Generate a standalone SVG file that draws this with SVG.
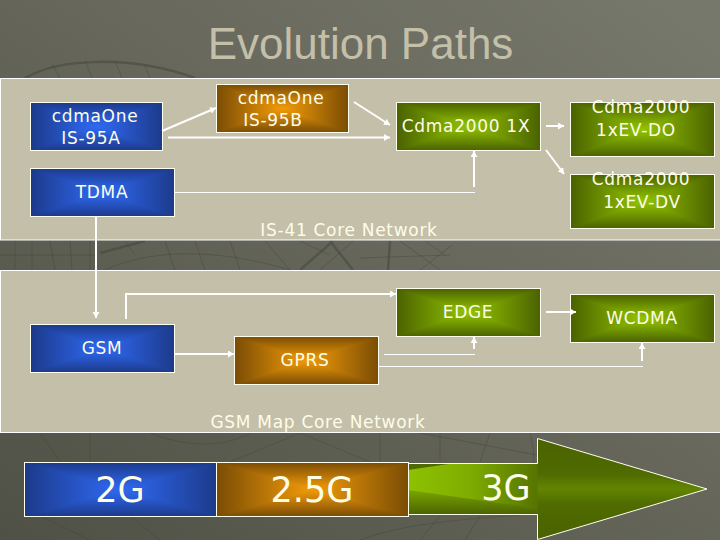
<svg xmlns="http://www.w3.org/2000/svg" width="720" height="540" viewBox="0 0 720 540">
<style>
.t{font-family:"DejaVu Sans",Verdana,sans-serif;fill:#fdfde8;text-anchor:middle;font-size:17px;letter-spacing:.7px}
.b{font-size:35px;letter-spacing:0;font-weight:normal}
.c{fill:none;stroke:#fff;stroke-width:2}
.a{marker-end:url(#ah)}
.f{fill:none;stroke:#fff;stroke-width:1}
.p{fill:#c3bfa9;stroke:#fff;stroke-width:1}
.n{fill:none;stroke:#fffff0;stroke-width:1}
.w{fill:none;stroke:#3f4036;stroke-width:1;opacity:.35}
.ws{fill:none;stroke:#3f4036;stroke-width:2.500;opacity:.45}
</style>
<defs>
<linearGradient id="bg" x1="0" y1="1" x2="1" y2="0"><stop offset="0" stop-color="#505146"/><stop offset=".6" stop-color="#696a5d"/><stop offset="1" stop-color="#78796d"/></linearGradient>
<marker id="ah" markerUnits="userSpaceOnUse" markerWidth="8" markerHeight="8" refX="6" refY="3.500" orient="auto"><path d="M0 0L6 3.500L0 7z" fill="#fff"/></marker>
<linearGradient id="bH"><stop offset="0" stop-color="#1c3a8a"/><stop offset=".35" stop-color="#2a5cd6"/><stop offset=".5" stop-color="#2f68f0"/><stop offset=".65" stop-color="#2a5cd6"/><stop offset="1" stop-color="#1c3a8a"/></linearGradient>
<linearGradient id="bT" x1="0" x2="0" y1="0" y2="1"><stop offset="0" stop-color="#1c3a8a"/><stop offset=".7" stop-color="#2a5cd6"/><stop offset="1" stop-color="#2f68f0"/></linearGradient>
<linearGradient id="bB" x1="0" x2="0" y1="1" y2="0"><stop offset="0" stop-color="#1c3a8a"/><stop offset=".7" stop-color="#2a5cd6"/><stop offset="1" stop-color="#2f68f0"/></linearGradient>
<linearGradient id="oH"><stop offset="0" stop-color="#7a4c04"/><stop offset=".35" stop-color="#d08508"/><stop offset=".5" stop-color="#f09a08"/><stop offset=".65" stop-color="#d08508"/><stop offset="1" stop-color="#7a4c04"/></linearGradient>
<linearGradient id="oT" x1="0" x2="0" y1="0" y2="1"><stop offset="0" stop-color="#7a4c04"/><stop offset=".7" stop-color="#d08508"/><stop offset="1" stop-color="#f09a08"/></linearGradient>
<linearGradient id="oB" x1="0" x2="0" y1="1" y2="0"><stop offset="0" stop-color="#7a4c04"/><stop offset=".7" stop-color="#d08508"/><stop offset="1" stop-color="#f09a08"/></linearGradient>
<linearGradient id="gH"><stop offset="0" stop-color="#4a6200"/><stop offset=".35" stop-color="#7ea800"/><stop offset=".5" stop-color="#90c400"/><stop offset=".65" stop-color="#7ea800"/><stop offset="1" stop-color="#4a6200"/></linearGradient>
<linearGradient id="gT" x1="0" x2="0" y1="0" y2="1"><stop offset="0" stop-color="#4a6200"/><stop offset=".7" stop-color="#7ea800"/><stop offset="1" stop-color="#90c400"/></linearGradient>
<linearGradient id="gB" x1="0" x2="0" y1="1" y2="0"><stop offset="0" stop-color="#4a6200"/><stop offset=".7" stop-color="#7ea800"/><stop offset="1" stop-color="#90c400"/></linearGradient>
<symbol id="blue" viewBox="0 0 100 100" preserveAspectRatio="none"><rect width="100" height="100" fill="url(#bH)"/><path d="M0 0L100 0L50 50z" fill="url(#bT)"/><path d="M0 100L100 100L50 50z" fill="url(#bB)"/></symbol>
<symbol id="orange" viewBox="0 0 100 100" preserveAspectRatio="none"><rect width="100" height="100" fill="url(#oH)"/><path d="M0 0L100 0L50 50z" fill="url(#oT)"/><path d="M0 100L100 100L50 50z" fill="url(#oB)"/></symbol>
<symbol id="green" viewBox="0 0 100 100" preserveAspectRatio="none"><rect width="100" height="100" fill="url(#gH)"/><path d="M0 0L100 0L50 50z" fill="url(#gT)"/><path d="M0 100L100 100L50 50z" fill="url(#gB)"/></symbol>
<linearGradient id="shaft"><stop offset="0" stop-color="#90c400"/><stop offset=".5" stop-color="#7fad00"/><stop offset="1" stop-color="#567400"/></linearGradient>
<linearGradient id="head" x1="0" x2="0" y1="0" y2="1"><stop offset="0" stop-color="#4a6200"/><stop offset=".35" stop-color="#506b00"/><stop offset=".5" stop-color="#628500"/><stop offset=".65" stop-color="#506b00"/><stop offset="1" stop-color="#4a6200"/></linearGradient>
<linearGradient id="wedge" x1="0" x2="0" y1="0" y2="1"><stop offset="0" stop-color="#7ba600"/><stop offset="1" stop-color="#4a6400"/></linearGradient>
</defs>
<rect id="background" width="720" height="540" fill="url(#bg)"/>
<g id="globe-lines">
<path class="ws" d="M25 78C60 58 130 55 195 78"/>
<path class="w" d="M52 64L60 78M85 61L92 78M115 61L122 78M145 65L150 78"/>
<path class="ws" d="M100 253L145 241M300 270L333 241M390 241L388 270M330 241L353 270"/>
<path class="w" d="M0 255H95M15 241V270M32 241V270M50 241L55 270M70 241L72 270M90 241V270M105 270C160 245 230 252 290 270M125 241L135 255M165 241L175 270M195 241L205 270M230 241L240 270M265 241L290 270M300 241L330 255M353 241L320 270M400 241L440 270M425 241L445 255M420 270L452 245M360 258L450 255"/>
<path class="w" d="M40 433L60 462M90 433V462M150 433C180 445 220 450 250 433M230 462L300 433M300 433L370 462M380 433V462M420 433L537 455M440 433V462M490 433L480 462M530 433C535 450 535 470 530 490"/>
<path class="w" d="M40 516L90 540M130 516L160 540M360 540C400 525 450 520 520 515M440 516L420 540M480 516L465 540"/>
</g>
<rect id="panel-is41" class="p" x="0.500" y="78.500" width="722" height="161.500"/>
<rect id="panel-gsm" class="p" x="0.500" y="270.500" width="722" height="162"/>
<text x="360.500" y="59" style="font-family:'Liberation Sans',Arial,sans-serif;font-size:44px;fill:#c3bfa9;text-anchor:middle">Evolution Paths</text>
<text class="t" x="349" y="236">IS-41 Core Network</text>
<text class="t" x="318" y="428">GSM Map Core Network</text>
<g id="node-is95a"><use href="#blue" x="30.500" y="102.500" width="132" height="48"/><rect class="n" x="30.500" y="102.500" width="132" height="48"/><text class="t" x="95" y="122">cdmaOne</text><text class="t" x="91" y="144">IS-95A</text></g>
<g id="node-is95b"><use href="#orange" x="216.500" y="84.500" width="132" height="48"/><rect class="n" x="216.500" y="84.500" width="132" height="48"/><text class="t" x="281" y="104">cdmaOne</text><text class="t" x="273" y="126">IS-95B</text></g>
<g id="node-tdma"><use href="#blue" x="30.500" y="168.500" width="144" height="48"/><rect class="n" x="30.500" y="168.500" width="144" height="48"/><text class="t" x="102" y="198">TDMA</text></g>
<g id="node-1x"><use href="#green" x="396.500" y="102.500" width="144" height="48"/><rect class="n" x="396.500" y="102.500" width="144" height="48"/><text class="t" x="466" y="132">Cdma2000 1X</text></g>
<g id="node-evdo"><use href="#green" x="570.500" y="102.500" width="144" height="54"/><rect class="n" x="570.500" y="102.500" width="144" height="54"/><text class="t" x="641" y="113">Cdma2000</text><text class="t" x="636" y="136">1xEV-DO</text></g>
<g id="node-evdv"><use href="#green" x="570.500" y="174.500" width="144" height="54"/><rect class="n" x="570.500" y="174.500" width="144" height="54"/><text class="t" x="641" y="185">Cdma2000</text><text class="t" x="642" y="208">1xEV-DV</text></g>
<g id="node-gsm"><use href="#blue" x="30.500" y="324.500" width="144" height="48"/><rect class="n" x="30.500" y="324.500" width="144" height="48"/><text class="t" x="102" y="354">GSM</text></g>
<g id="node-gprs"><use href="#orange" x="234.500" y="336.500" width="144" height="48"/><rect class="n" x="234.500" y="336.500" width="144" height="48"/><text class="t" x="305" y="366">GPRS</text></g>
<g id="node-edge"><use href="#green" x="396.500" y="288.500" width="144" height="48"/><rect class="n" x="396.500" y="288.500" width="144" height="48"/><text class="t" x="468" y="318">EDGE</text></g>
<g id="node-wcdma"><use href="#green" x="570.500" y="294.500" width="144" height="48"/><rect class="n" x="570.500" y="294.500" width="144" height="48"/><text class="t" x="642" y="324">WCDMA</text></g>
<g id="node-3g">
<path d="M400 463.500H537.500V514.500H400z" fill="url(#shaft)"/>
<path d="M408 470L408 463.500H452z" fill="#4f6a00"/>
<path d="M408 490L408 514.500H537.500V508.500z" fill="url(#wedge)"/>
<path d="M537.500 438.500L707 489L537.500 539.500z" fill="url(#head)"/>
<path d="M400 463.500H537.500V438.500L707 489L537.500 539.500V514.500H400z" fill="none" stroke="#fffff0"/>
<text class="t b" x="506" y="500">3G</text></g>
<g id="node-2g"><use href="#blue" x="24.500" y="462.500" width="192" height="54"/><rect class="n" x="24.500" y="462.500" width="192" height="54"/><text class="t b" x="120" y="502">2G</text></g>
<g id="node-25g"><use href="#orange" x="216.500" y="462.500" width="192" height="54"/><rect class="n" x="216.500" y="462.500" width="192" height="54"/><text class="t b" x="312" y="502">2.5G</text></g>
<g id="connectors">
<path class="c a" d="M162 131L216 108"/>
<path class="c a" d="M168 137.500H390"/>
<path class="c a" d="M354 102L390 125"/>
<path class="c a" d="M546 126H564"/>
<path class="c a" d="M546 150L564 174"/>
<path class="f" d="M174 192.500H475"/>
<path class="c a" d="M474 187V151"/>
<path class="c a" d="M96 216V318"/>
<path class="c a" d="M126 319V294H396"/>
<path class="c a" d="M174 354H234"/>
<path class="c a" d="M546 312H576"/>
<path class="f" d="M384 354.500H475"/>
<path class="c a" d="M474 349V337"/>
<path class="f" d="M378 366.500H643"/>
<path class="c a" d="M642 361V343"/>
</g>
</svg>
